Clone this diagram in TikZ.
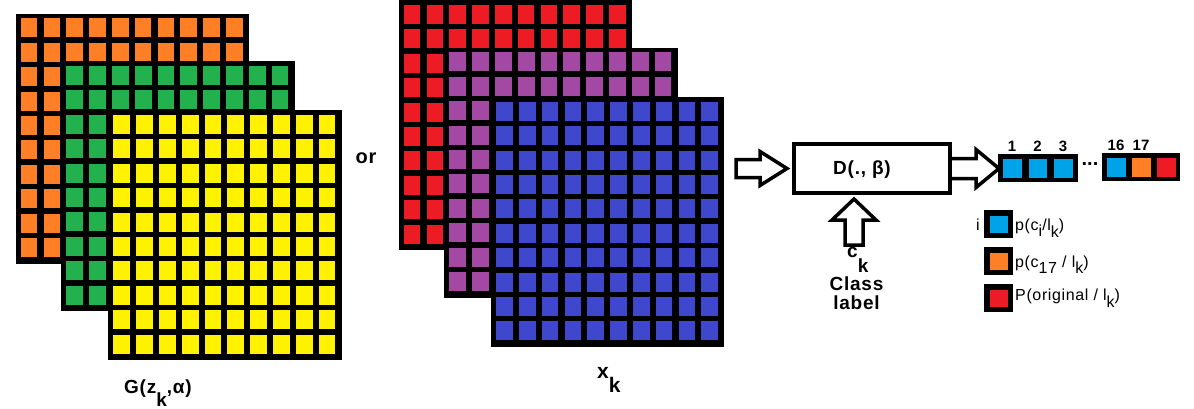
\documentclass[tikz,border=0pt]{standalone}
\usepackage{fontspec}
\setmainfont{Liberation Sans}
\newfontfamily\lblfont[LetterSpace=4]{Liberation Sans}
\usetikzlibrary{calc}
\definecolor{corange}{HTML}{FF7F27}
\definecolor{cgreen}{HTML}{22B14C}
\definecolor{cyellow}{HTML}{FFF200}
\definecolor{cred}{HTML}{ED1C24}
\definecolor{cpurple}{HTML}{A349A4}
\definecolor{cblue}{HTML}{3F48CC}
\definecolor{clight}{HTML}{00A2E8}
\newcommand\lowk[2]{\raisebox{-#1}{#2}}
\newcommand\pixgrid[4]{%
  \node[gridbox] (#1) at (#2,#3) {};
  \foreach \i in {0,...,9}{\foreach \j in {0,...,9}{
    \fill[#4] ({#2+5.4+\i*22.8},{#3+5+\j*24.4}) rectangle ++(16.7,19);
  }}%
}
\begin{document}
\begin{tikzpicture}[x=1pt,y=-1pt,
  gridbox/.style={fill=black,draw=none,inner sep=0,anchor=north west,minimum width=233.4,minimum height=250},
  lbl/.style={font=\lblfont\bfseries\fontsize{19}{21}\selectfont,inner sep=0},
  leg/.style={font=\lblfont\fontsize{16}{18}\selectfont,inner sep=0,anchor=base west},
  num/.style={font=\bfseries\fontsize{15}{17}\selectfont,inner sep=0,anchor=base},
  blockarrow/.style={draw=black,line width=3.5,fill=white,line join=miter},
  bar/.style={fill=black,draw=none,inner sep=0,anchor=north west},
  legbox/.style={fill=black,draw=none,inner sep=0,anchor=north west,minimum width=29,minimum height=28}]
\useasboundingbox (0,0) rectangle (1194,408);
% generated stack
\pixgrid{gA}{15.3}{13.3}{corange}
\pixgrid{gB}{61}{61}{cgreen}
\pixgrid{gC}{108}{110}{cyellow}
% real stack
\pixgrid{rA}{398.3}{0}{cred}
\pixgrid{rB}{444}{47.3}{cpurple}
\pixgrid{rC}{490.7}{96.7}{cblue}
% texts
\node[lbl,font=\lblfont\bfseries\fontsize{20}{22}\selectfont] (or) at (366,158) {or};
\node[lbl,anchor=base west] (Glbl) at (124,393) {G(z\lowk{13pt}{k},α)};
\node[lbl,anchor=base west,font=\lblfont\bfseries\fontsize{21}{23}\selectfont] (Xlbl) at (597,378) {x\lowk{14pt}{k}};
% discriminator
\node[draw=black,line width=4,minimum width=156,minimum height=49,inner sep=0] (D) at (872,168.5) {};
\node[lbl] (Dtxt) at (862,170) {D(., β)};
% input arrow
\coordinate (inTip) at ($(D.west)+(-5,0)$);
\draw[blockarrow] (inTip) -- ++(-27,-17) -- ++(0,8) -- ++(-24,0) -- ++(0,18) -- ++(24,0) -- ++(0,8) -- cycle;
% class label arrow
\coordinate (upTip) at ($(D.south)+(-18,4)$);
\draw[blockarrow] (upTip) -- ++(22,21) -- ++(-13,0) -- ++(0,25) -- ++(-18,0) -- ++(0,-25) -- ++(-13,0) -- cycle;
\node[lbl,anchor=base west] (ck) at (847,257) {c\lowk{15pt}{k}};
\node[lbl,anchor=base] (cls) at (856.5,290) {Class};
\node[lbl,anchor=base] (lab) at (856.5,309) {label};
% output bars
\node[bar,minimum width=80,minimum height=28] (bar1) at (998,154) {};
\node[bar,minimum width=78,minimum height=28] (bar2) at (1102,153) {};
\foreach \k in {0,1,2}{\fill[clight] ($(bar1.north west)+(5+\k*25.5,5)$) rectangle ++(18.5,19);}
\fill[clight] ($(bar2.north west)+(5,5)$) rectangle ++(18.5,19);
\fill[corange] ($(bar2.north west)+(30,5)$) rectangle ++(18.5,19);
\fill[cred] ($(bar2.north west)+(55,5)$) rectangle ++(18.5,19);
\node[num] (n1) at (1012,151) {1};
\node[num] (n2) at (1037.5,151) {2};
\node[num] (n3) at (1063,151) {3};
\node[num] (n16) at (1116,150) {16};
\node[num] (n17) at (1141,150) {17};
\node[font=\bfseries\fontsize{20}{22}\selectfont,inner sep=0] (dots) at (1090,164) {...};
% output arrow
\coordinate (outTail) at (D.east);
\draw[blockarrow] ($(outTail)+(0,-10)$) -- ++(24,0) -- ++(0,-9) -- ++(23,19) -- ++(-23,19) -- ++(0,-9) -- ++(-24,0);
% legend
\node[legbox] (L1) at (984,210) {};
\node[legbox] (L2) at (984,247) {};
\node[legbox] (L3) at (984,284) {};
\fill[clight] ($(L1.north west)+(6,6)$) rectangle ++(17.5,17);
\fill[corange] ($(L2.north west)+(6,6)$) rectangle ++(17.5,17);
\fill[cred] ($(L3.north west)+(6,6)$) rectangle ++(17.5,17);
\node[leg,anchor=base] (li) at (978,230) {i};
\node[leg] (t1) at (1015,230) {p(c\lowk{6pt}{i}/l\lowk{7pt}{k})};
\node[leg] (t2) at (1015,267) {p(c\lowk{6pt}{17} / l\lowk{6pt}{k})};
\node[leg] (t3) at (1015,300) {P(original / l\lowk{7pt}{k})};
\end{tikzpicture}
\end{document}
